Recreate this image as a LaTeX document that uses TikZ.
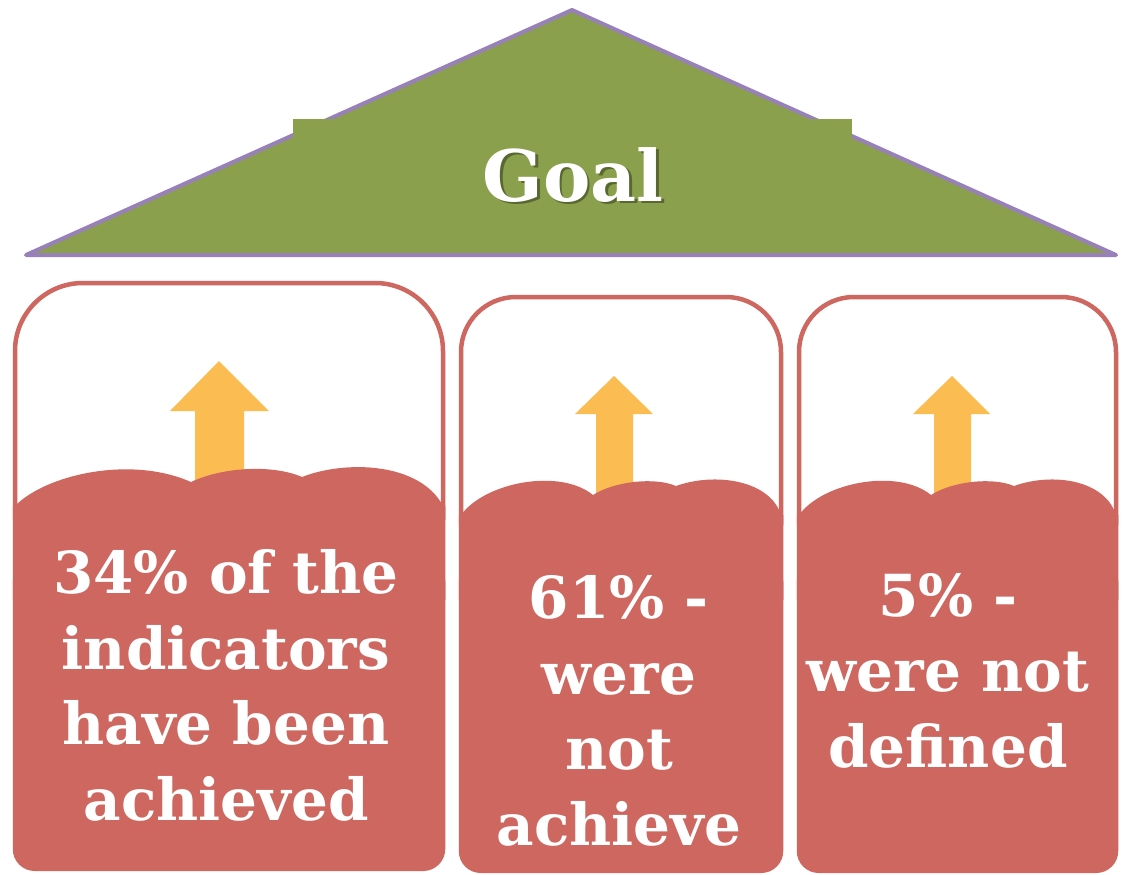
\documentclass[tikz,border=0pt]{standalone}
\usepackage{fontspec}
\setmainfont{DejaVu Serif}
\definecolor{boxred}{HTML}{CD675F}
\definecolor{arroworange}{HTML}{FBBC52}
\definecolor{roofgreen}{HTML}{8AA04C}
\definecolor{roofpurple}{HTML}{9880B8}
\begin{document}
\begin{tikzpicture}[x=1pt,y=-1pt,
  outline/.style={draw=boxred, line width=4.5pt},
  redfill/.style={fill=boxred},
  uparrow/.style={fill=arroworange},
  boxlabel/.style={text=white, font=\bfseries\fontsize{58}{75.5}\selectfont, align=center, anchor=base, inner sep=0pt},
  goaltext/.style={font=\bfseries\fontsize{71}{80}\selectfont, anchor=base, inner sep=0pt}]
\useasboundingbox (0,0) rectangle (1122,875);
\fill[white] (0,0) rectangle (1122,875);
% roof
\draw[line width=4pt, draw=roofpurple, fill=roofgreen, line join=round] (26,255) -- (572,10) -- (1116,255) -- cycle;
\fill[roofgreen] (293,119) rectangle (852,252);
\node[goaltext, text=black, opacity=0.35] (goalshadow) at (575.5,203.5) {Goal};
\node[goaltext, text=white] (goal) at (573,201) {Goal};
% arrows
\fill[uparrow] (195,495) -- (195,411) -- (170,411) -- (219,361) -- (269,411) -- (244,411) -- (244,495) -- cycle;
\fill[uparrow] (596,505) -- (596,414) -- (575,414) -- (614,376) -- (653,414) -- (633,414) -- (633,505) -- cycle;
\fill[uparrow] (934,505) -- (934,414) -- (913,414) -- (952,376) -- (990,414) -- (971,414) -- (971,505) -- cycle;
% box 1
\draw[outline, rounded corners=68pt] (15,520) -- (15,283) -- (443,283) -- (443,520);
\fill[redfill] (12.75,506) -- (15,506) .. controls (45,475) and (130,455) .. (191,482) .. controls (225,466) and (275,465) .. (302,477) .. controls (345,460) and (420,462) .. (443,506) -- (445.25,506) -- (445.25,600) -- (12.75,600) -- cycle;
\fill[redfill, rounded corners=22pt] (12.75,560) rectangle (445.25,871);
% box 2
\draw[outline, rounded corners=55pt] (461,525) -- (461,297) -- (781,297) -- (781,525);
\fill[redfill] (458.75,515) -- (461,515) .. controls (485,482) and (560,468) .. (593,495) .. controls (615,481) and (655,477) .. (676,486) .. controls (715,472) and (770,480) .. (781,515) -- (783.25,515) -- (783.25,600) -- (458.75,600) -- cycle;
\fill[redfill, rounded corners=22pt] (458.75,560) rectangle (783.25,873);
% box 3
\draw[outline, rounded corners=55pt] (799,525) -- (799,297) -- (1116,297) -- (1116,525);
\fill[redfill] (796.75,515) -- (799,515) .. controls (823,482) and (898,468) .. (931,495) .. controls (953,481) and (993,477) .. (1014,486) .. controls (1053,472) and (1105,480) .. (1116,515) -- (1118.25,515) -- (1118.25,600) -- (796.75,600) -- cycle;
\fill[redfill, rounded corners=22pt] (796.75,560) rectangle (1118.25,873);
% labels (base anchor = baseline of the last line)
\node[boxlabel] (t1) at (226,820) {34\% of the\\indicators\\have been\\achieved};
\node[boxlabel] (t2) at (619,845) {61\% -\\were\\not\\achieve};
\node[boxlabel] (t3) at (948,767) {5\% -\\were not\\defined};
\end{tikzpicture}
\end{document}
